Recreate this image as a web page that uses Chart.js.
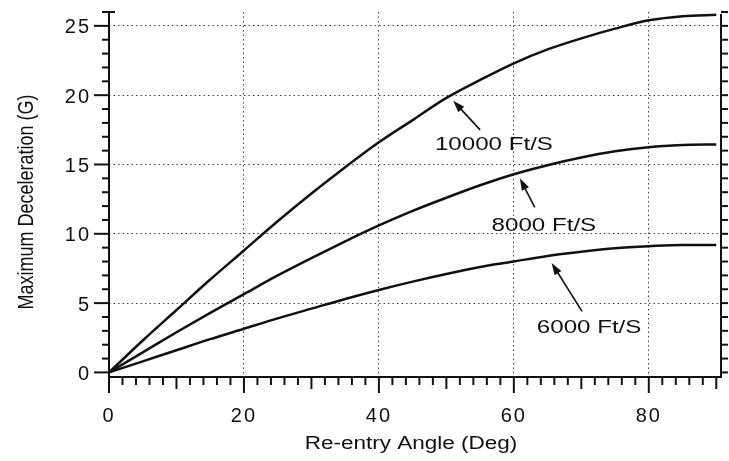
<!DOCTYPE html>
<html>
<head>
<meta charset="utf-8">
<script src="https://cdn.jsdelivr.net/npm/chart.js@4.4.1/dist/chart.umd.min.js"></script>
<style>
html,body{margin:0;padding:0;background:#ffffff;}
#wrap{width:729px;height:461px;position:relative;}
canvas{display:block;}
</style>
</head>
<body>
<div id="wrap"><canvas id="c" width="729" height="461"></canvas></div>
<script>
// ---- data ----
const angles      = [0, 5, 10, 15, 20, 25, 30, 35, 40, 45, 50, 55, 60, 65, 70, 75, 80, 85, 90];
const decel10000  = [0, 2.3, 4.5, 6.7, 8.8, 10.9, 12.9, 14.8, 16.6, 18.2, 19.8, 21.1, 22.3, 23.3, 24.1, 24.8, 25.4, 25.7, 25.8];
const decel8000   = [0, 1.45, 2.9, 4.3, 5.65, 7.0, 8.25, 9.45, 10.6, 11.65, 12.6, 13.5, 14.3, 14.95, 15.5, 15.95, 16.25, 16.4, 16.45];
const decel6000   = [0, 0.8, 1.6, 2.4, 3.15, 3.9, 4.6, 5.3, 5.95, 6.55, 7.1, 7.6, 8.0, 8.4, 8.7, 8.95, 9.1, 9.2, 9.2];
const seriesLabels = ['10000 Ft/S', '8000 Ft/S', '6000 Ft/S'];
const xTickValues = [0, 20, 40, 60, 80];
const yTickValues = [0, 5, 10, 15, 20, 25];
const xTitle = 'Re-entry Angle (Deg)';
const yTitle = 'Maximum Deceleration (G)';

// callout placement in data units: text (left, middle), arrow tail, arrow tip
const callouts = [
  {label: seriesLabels[0], text: [48.3, 16.4], tail: [55.0, 17.5], tip: [51.0, 19.6]},
  {label: seriesLabels[1], text: [56.7, 10.6], tail: [63.1, 11.9], tip: [60.9, 14.0]},
  {label: seriesLabels[2], text: [63.4, 3.2],  tail: [70.1, 4.4],  tip: [65.6, 7.9]}
];

const FONT = "'Liberation Sans', Arial, Helvetica, sans-serif";
const INK = '#111111';

function toPoints(values) { return angles.map((a, i) => ({x: a, y: values[i]})); }

function line(ctx, x1, y1, x2, y2) { ctx.beginPath(); ctx.moveTo(x1, y1); ctx.lineTo(x2, y2); ctx.stroke(); }

function arrow(ctx, x1, y1, x2, y2) {
  const ang = Math.atan2(y2 - y1, x2 - x1), hl = 12, hw = 4;
  const c = Math.cos(ang), s = Math.sin(ang);
  ctx.beginPath(); ctx.moveTo(x1, y1); ctx.lineTo(x2 - hl * 0.7 * c, y2 - hl * 0.7 * s); ctx.stroke();
  ctx.beginPath();
  ctx.moveTo(x2, y2);
  ctx.lineTo(x2 - hl * c + hw * s, y2 - hl * s - hw * c);
  ctx.lineTo(x2 - hl * c - hw * s, y2 - hl * s + hw * c);
  ctx.closePath(); ctx.fill();
}

const framePlugin = {
  id: 'frame',
  beforeDraw(chart) { chart.ctx.letterSpacing = '2px'; },
  afterDatasetsDraw(chart) {
    const ctx = chart.ctx, xs = chart.scales.x, ys = chart.scales.y, ca = chart.chartArea;
    const L = ca.left, R = ca.right, B = ca.bottom, T = ca.top;
    ctx.save();
    ctx.letterSpacing = '0px';
    ctx.strokeStyle = INK; ctx.fillStyle = INK; ctx.lineWidth = 2; ctx.lineCap = 'butt';
    // axes
    line(ctx, L, T, L, B + 1);
    line(ctx, L - 1, B, R + 1, B);
    line(ctx, R, T + 2, R, B);
    // y ticks (left and right)
    for (let v = 0; v <= 26; v++) {
      const y = ys.getPixelForValue(v);
      const len = v % 5 === 0 ? 15 : 7;
      line(ctx, L - len, y, L, y);
      line(ctx, R, y, R + 7, y);
    }
    const yTop = ys.getPixelForValue(26);
    line(ctx, L, yTop, L + 6, yTop);
    // x ticks
    for (let v = 0; v <= 90; v += 2) {
      const x = xs.getPixelForValue(v);
      const len = v % 20 === 0 ? 16 : (v % 10 === 0 ? 12 : 8);
      line(ctx, x, B, x, B + len);
    }
    // callouts
    ctx.lineWidth = 1.6;
    ctx.font = '19px ' + FONT;
    ctx.textBaseline = 'middle';
    callouts.forEach(c => {
      arrow(ctx, xs.getPixelForValue(c.tail[0]), ys.getPixelForValue(c.tail[1]),
                 xs.getPixelForValue(c.tip[0]), ys.getPixelForValue(c.tip[1]));
      ctx.save();
      ctx.translate(xs.getPixelForValue(c.text[0]), ys.getPixelForValue(c.text[1]));
      ctx.scale(1.27, 1);
      ctx.textAlign = 'left';
      ctx.fillText(c.label, 0, 0);
      ctx.restore();
    });
    // axis titles
    ctx.font = '18px ' + FONT;
    ctx.textBaseline = 'alphabetic';
    ctx.textAlign = 'center';
    ctx.save();
    ctx.translate((L + R) / 2 - 4, 449);
    ctx.scale(1.25, 1);
    ctx.fillText(xTitle, 0, 0);
    ctx.restore();
    ctx.save();
    ctx.translate(33, 202);
    ctx.rotate(-Math.PI / 2);
    ctx.scale(1, 1.25);
    ctx.fillText(yTitle, 0, 0);
    ctx.restore();
    ctx.restore();
  }
};

const seriesStyle = {borderColor: INK, borderWidth: 2.5, pointRadius: 0, fill: false, cubicInterpolationMode: 'monotone'};

new Chart(document.getElementById('c').getContext('2d'), {
  type: 'line',
  data: {
    datasets: [
      Object.assign({label: seriesLabels[0], data: toPoints(decel10000)}, seriesStyle),
      Object.assign({label: seriesLabels[1], data: toPoints(decel8000)}, seriesStyle),
      Object.assign({label: seriesLabels[2], data: toPoints(decel6000)}, seriesStyle)
    ]
  },
  options: {
    responsive: false,
    animation: false,
    devicePixelRatio: 1,
    layout: {padding: {top: 12, right: 8, left: 0, bottom: 0}},
    plugins: {legend: {display: false}, tooltip: {enabled: false}},
    scales: {
      x: {
        type: 'linear', min: 0, max: 90.7,
        afterFit(s) { s.height = 84; s.paddingLeft = 0; s.paddingRight = 0; s.paddingTop = 0; s.paddingBottom = 0; },
        afterBuildTicks(s) { s.ticks = xTickValues.map(v => ({value: v})); },
        grid: {drawTicks: false, lineWidth: 1,
               color: c => (c.tick && c.tick.value === 0) ? 'rgba(0,0,0,0)' : '#444444'},
        border: {display: false, dash: [1.5, 3]},
        ticks: {padding: 27, color: INK, maxRotation: 0, autoSkip: false,
                font: {family: FONT, size: 20}}
      },
      y: {
        type: 'linear', min: -0.33, max: 26,
        afterFit(s) { s.width = 109; s.paddingLeft = 0; s.paddingRight = 0; s.paddingTop = 0; s.paddingBottom = 0; },
        afterBuildTicks(s) { s.ticks = yTickValues.map(v => ({value: v})); },
        grid: {drawTicks: false, lineWidth: 1,
               color: c => (c.tick && c.tick.value === 0) ? 'rgba(0,0,0,0)' : '#444444'},
        border: {display: false, dash: [1.5, 3]},
        ticks: {padding: 18, labelOffset: 2, color: INK, autoSkip: false,
                font: {family: FONT, size: 20}}
      }
    }
  },
  plugins: [framePlugin]
});
</script>
</body>
</html>
